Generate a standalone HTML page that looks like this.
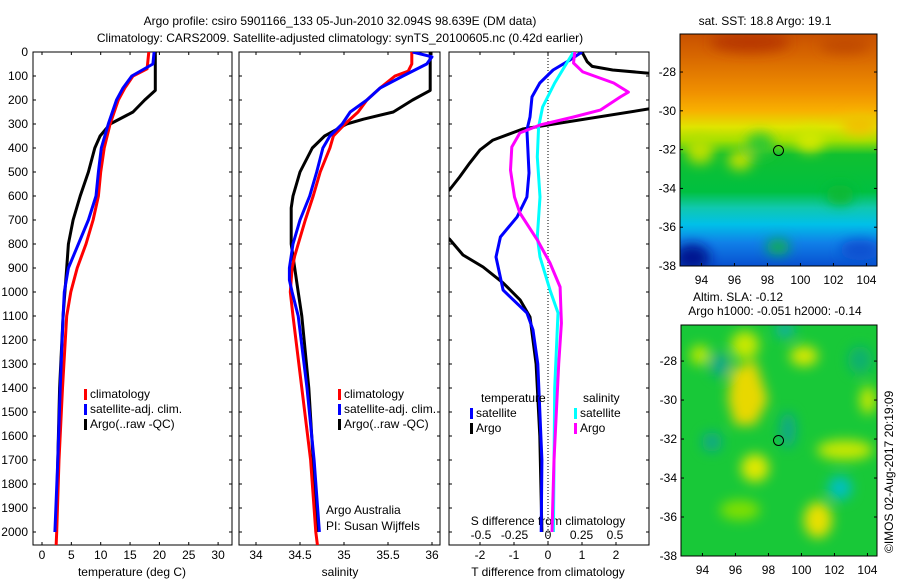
<!DOCTYPE html>
<html><head><meta charset="utf-8">
<style>
body{margin:0;background:#fff;width:900px;height:580px;overflow:hidden;font-family:"Liberation Sans",sans-serif;}
svg text{font-family:"Liberation Sans",sans-serif;font-size:12px;fill:#000;}
</style></head>
<body>
<svg id="c" width="900" height="580">
<defs>
<linearGradient id="sst" x1="0" y1="0" x2="0" y2="1">
<stop offset="0" stop-color="#c85000"/><stop offset="0.1" stop-color="#d86800"/>
<stop offset="0.25" stop-color="#f09000"/><stop offset="0.33" stop-color="#f8b000"/>
<stop offset="0.4" stop-color="#e0e400"/><stop offset="0.46" stop-color="#a0e000"/>
<stop offset="0.52" stop-color="#10c030"/><stop offset="0.68" stop-color="#00c040"/>
<stop offset="0.75" stop-color="#10c8b0"/><stop offset="0.82" stop-color="#00c0e8"/>
<stop offset="0.9" stop-color="#1080e8"/><stop offset="1" stop-color="#0850d0"/>
</linearGradient>
<filter id="bl" x="-50%" y="-50%" width="200%" height="200%"><feGaussianBlur stdDeviation="6"/></filter>
<clipPath id="cm1"><rect x="680" y="34" width="197" height="232"/></clipPath>
<clipPath id="cm2"><rect x="681" y="325" width="196" height="231"/></clipPath>
<clipPath id="cp1"><rect x="33" y="52" width="199" height="493"/></clipPath>
<clipPath id="cp2"><rect x="239" y="52" width="201" height="493"/></clipPath>
<clipPath id="cp3"><rect x="449" y="52" width="200" height="493"/></clipPath>
</defs>
<text x="340" y="25" text-anchor="middle" font-size="13">Argo profile: csiro 5901166_133 05-Jun-2010 32.094S 98.639E (DM data)</text>
<text x="340" y="42" text-anchor="middle" font-size="13">Climatology: CARS2009. Satellite-adjusted climatology: synTS_20100605.nc (0.42d earlier)</text>

<g clip-path="url(#cm1)">
<rect x="680" y="34" width="197" height="232" fill="url(#sst)"/>
<g filter="url(#bl)">
<ellipse cx="700" cy="150" rx="14" ry="14" fill="#b8e000"/>
<ellipse cx="760" cy="145" rx="14" ry="12" fill="#30c830"/>
<ellipse cx="810" cy="140" rx="14" ry="12" fill="#d0e800"/>
<ellipse cx="860" cy="125" rx="18" ry="10" fill="#f0c000"/>
<ellipse cx="740" cy="160" rx="12" ry="10" fill="#c0e000"/>
<ellipse cx="840" cy="195" rx="14" ry="10" fill="#10b830"/>
<ellipse cx="778" cy="247" rx="12" ry="8" fill="#10b050"/>
<ellipse cx="692" cy="258" rx="18" ry="14" fill="#001890"/>
<ellipse cx="860" cy="250" rx="20" ry="10" fill="#1050d0"/>
<ellipse cx="750" cy="42" rx="40" ry="10" fill="#b83800"/>
<ellipse cx="845" cy="45" rx="25" ry="8" fill="#c04800"/>
</g>
</g>
<rect x="680" y="34" width="197" height="232" fill="none" stroke="#000"/>
<circle cx="778.5" cy="150.5" r="5" fill="none" stroke="#000"/>
<text x="765" y="25" text-anchor="middle">sat. SST: 18.8 Argo: 19.1</text>

<g clip-path="url(#cm2)">
<rect x="681" y="325" width="196" height="231" fill="#18c838"/>
<g filter="url(#bl)">
<path d="M732,370 L755,360 L768,400 L755,425 L735,425 L728,400Z" fill="#e8d800"/>
<ellipse cx="745" cy="345" rx="14" ry="14" fill="#c8e800"/>
<ellipse cx="700" cy="355" rx="10" ry="10" fill="#b8e800"/>
<ellipse cx="720" cy="365" rx="10" ry="12" fill="#10a888"/>
<ellipse cx="785" cy="330" rx="10" ry="8" fill="#10b0a0"/>
<ellipse cx="804" cy="356" rx="14" ry="10" fill="#d8e800"/>
<ellipse cx="788" cy="430" rx="8" ry="18" fill="#10a888"/>
<ellipse cx="712" cy="442" rx="10" ry="10" fill="#10a888"/>
<ellipse cx="755" cy="468" rx="14" ry="14" fill="#e0e800"/>
<ellipse cx="845" cy="450" rx="28" ry="10" fill="#c8e800"/>
<ellipse cx="840" cy="488" rx="12" ry="12" fill="#00c0c0"/>
<ellipse cx="818" cy="520" rx="14" ry="18" fill="#e8e000"/>
<ellipse cx="740" cy="510" rx="20" ry="10" fill="#80e000"/>
<ellipse cx="868" cy="400" rx="8" ry="14" fill="#c8e800"/>
<ellipse cx="860" cy="360" rx="12" ry="14" fill="#10b070"/>
</g>
</g>
<rect x="681" y="325" width="196" height="231" fill="none" stroke="#000"/>
<circle cx="778.5" cy="440.5" r="5" fill="none" stroke="#000"/>
<text x="738" y="301" text-anchor="middle">Altim. SLA: -0.12</text>
<text x="775" y="315" text-anchor="middle">Argo h1000: -0.051 h2000: -0.14</text>
<text transform="translate(893,553) rotate(-90)">©IMOS 02-Aug-2017 20:19:09</text>
<g id="ax"></g>
</svg>
<script>
const depthTicks=[0,100,200,300,400,500,600,700,800,900,1000,1100,1200,1300,1400,1500,1600,1700,1800,1900,2000];
const tempTicks=[0,5,10,15,20,25,30];
const salTicks=[34,34.5,35,35.5,36];
const tdTicks=[-2,-1,0,1,2];
const sdTicks=[-0.5,-0.25,0,0.25,0.5];
const sdTickLabels=["-0.5","-0.25","0","0.25","0.5"];
const latTicks=[-28,-30,-32,-34,-36,-38];
const lonTicks=[94,96,98,100,102,104];
const tClimDepth=[0,70,100,150,200,300,400,500,600,700,800,900,1000,1100,1400,1700,2000,2060];
const tClimVal=[18.2,17.9,15.5,14.1,13,11.6,10.6,10,9.6,8.7,7.5,6,4.9,4.2,3.5,2.9,2.5,2.4];
const tSatDepth=[0,50,100,150,200,300,400,500,600,700,800,900,1000,1100,1400,1700,2000];
const tSatVal=[19.1,18.9,15.3,13.8,12.7,11.3,10.1,9.6,9.2,7.9,6.2,4.5,3.8,3.6,3.1,2.7,2.2];
const tArgoDepth=[0,160,200,250,300,350,400,500,600,700,800,900,1000,1100,1400,1700,2000];
const tArgoVal=[19.3,19.3,17.5,15.5,11.6,9.9,9.0,7.9,6.5,5.3,4.5,4.2,3.9,3.6,3.0,2.7,2.4];
const sClimDepth=[0,50,80,100,150,200,250,300,350,400,500,600,700,800,850,900,1000,1100,1400,1700,2000,2060];
const sClimVal=[35.77,35.77,35.73,35.58,35.41,35.26,35.16,35.01,34.88,34.84,34.73,34.65,34.56,34.48,34.44,34.41,34.39,34.42,34.52,34.62,34.68,34.7];
const sSatDepth=[0,20,50,100,150,200,250,300,350,400,500,600,700,800,900,950,1000,1100,1400,1700,2000];
const sSatVal=[35.78,36.0,35.94,35.67,35.41,35.26,35.07,34.98,34.84,34.76,34.69,34.61,34.5,34.42,34.38,34.38,34.41,34.48,34.58,34.66,34.72];
const sArgoDepth=[0,160,200,250,280,300,350,400,500,600,650,800,900,1000,1100,1400,1700,2000];
const sArgoVal=[35.98,35.98,35.78,35.56,35.22,35.03,34.78,34.64,34.5,34.42,34.4,34.4,34.44,34.48,34.52,34.6,34.65,34.69];
const dTArgoDepth=[0,40,60,75,90,150,237,321,367,408,462,521,575,650,779,846,896,962,1033,1104,1300,1600,2000];
const dTArgoVal=[1.0,1.15,1.3,1.9,3.1,5,2.97,-0.74,-1.62,-2.0,-2.3,-2.6,-2.9,-4,-2.9,-2.5,-1.91,-1.32,-0.82,-0.53,-0.35,-0.24,-0.18];
const dTSatDepth=[0,33,75,129,187,271,325,408,504,604,687,771,854,992,1087,1158,1300,1700,2000];
const dTSatVal=[1.0,0.65,0.15,-0.24,-0.47,-0.53,-0.62,-0.59,-0.56,-0.62,-0.91,-1.4,-1.53,-1.32,-0.62,-0.44,-0.3,-0.18,-0.2];
const dSSatDepth=[0,46,129,229,312,437,604,771,854,992,1087,1400,2000];
const dSSatVal=[0.19,0.14,0.05,-0.04,-0.07,-0.08,-0.06,-0.08,-0.06,0.015,0.075,0.05,0.04];
const dSArgoDepth=[0,46,83,129,167,187,242,271,304,337,396,492,604,671,783,879,979,1129,1300,1700,2000];
const dSArgoVal=[0.2,0.19,0.26,0.49,0.6,0.54,0.39,0.19,-0.06,-0.21,-0.27,-0.28,-0.25,-0.21,-0.08,0.015,0.09,0.1,0.08,0.045,0.03];

const NS='http://www.w3.org/2000/svg';
const g=document.getElementById('ax');
function el(tag,at,txt){const e=document.createElementNS(NS,tag);for(const k in at)e.setAttribute(k,at[k]);if(txt!==undefined)e.textContent=txt;g.appendChild(e);return e;}
const Y0=52,Y1=545;
function yD(d){return Y0+d*0.24;}
const xT=v=>42+v*5.87, xS=v=>256+(v-34)*88, xDT=v=>548+v*34, xDS=v=>548+v*134;
function line(dep,val,fx,color,clip,name,w){
  let d='';dep.forEach((z,i)=>{d+=(i?'L':'M')+fx(val[i]).toFixed(1)+','+yD(z).toFixed(1);});
  const p=el('path',{d:d,fill:'none',stroke:color,'stroke-width':w||3,'clip-path':'url(#'+clip+')','stroke-linejoin':'round'});
  
  
}
function panel(x0,x1,name){
  const r=el('rect',{x:x0,y:Y0,width:x1-x0,height:Y1-Y0,fill:'none',stroke:'#000'});
  
  
  depthTicks.forEach(d=>{el('line',{x1:x0,x2:x0+3,y1:yD(d),y2:yD(d),stroke:'#000'});el('line',{x1:x1-3,x2:x1,y1:yD(d),y2:yD(d),stroke:'#000'});});
}
panel(33,232,'temperature-panel');panel(239,440,'salinity-panel');panel(449,649,'difference-panel');
depthTicks.forEach(d=>{const t=el('text',{x:28,y:yD(d)+4,'text-anchor':'end'},String(d));
  
  });
function xticks(arr,fx,labels,y){arr.forEach((v,i)=>{const x=fx(v);el('line',{x1:x,x2:x,y1:Y1-3,y2:Y1,stroke:'#000'});el('line',{x1:x,x2:x,y1:Y0,y2:Y0+3,stroke:'#000'});
  const t=el('text',{x:x,y:y,'text-anchor':'middle'},labels?labels[i]:String(v));
  
  });}
xticks(tempTicks,xT,null,559);xticks(salTicks,xS,null,559);xticks(tdTicks,xDT,null,559);
sdTicks.forEach((v,i)=>{const t=el('text',{x:xDS(v),y:539,'text-anchor':'middle'},sdTickLabels[i]);
  
  });
el('line',{x1:548,x2:548,y1:Y0,y2:Y1,stroke:'#000','stroke-dasharray':'1,2'});
[['temperature (deg C)',132],['salinity',340],['T difference from climatology',548]].forEach(a=>{const t=el('text',{x:a[1],y:576,'text-anchor':'middle'},a[0]);
  
  });
const st=el('text',{x:548,y:525,'text-anchor':'middle'},'S difference from climatology');



line(tArgoDepth,tArgoVal,xT,'#000','cp1','temp-argo-line');
line(tClimDepth,tClimVal,xT,'#f00','cp1','temp-clim-line');
line(tSatDepth,tSatVal,xT,'#00f','cp1','temp-sat-line');
line(sArgoDepth,sArgoVal,xS,'#000','cp2','sal-argo-line');
line(sClimDepth,sClimVal,xS,'#f00','cp2','sal-clim-line');
line(sSatDepth,sSatVal,xS,'#00f','cp2','sal-sat-line');
line(dTArgoDepth,dTArgoVal,xDT,'#000','cp3','tdiff-argo-line');
line(dTSatDepth,dTSatVal,xDT,'#00f','cp3','tdiff-sat-line');
line(dSSatDepth,dSSatVal,xDS,'#0ff','cp3','sdiff-sat-line');
line(dSArgoDepth,dSArgoVal,xDS,'#f0f','cp3','sdiff-argo-line');

function legend(x,y,color,label){const r=el('rect',{x:x,y:y-9,width:3,height:11,fill:color});
  
  
  const t=el('text',{x:x+6,y:y},label);
  
  }
[[398,'#f00','climatology'],[413,'#00f','satellite-adj. clim.'],[428,'#000','Argo(..raw -QC)']].forEach(a=>{legend(84,a[0],a[1],a[2]);legend(338,a[0],a[1],a[2]);});
const lt=el('text',{x:481,y:402},'temperature');
const ls=el('text',{x:583,y:402},'salinity');
legend(470,417,'#00f','satellite');legend(470,432,'#000','Argo');
legend(574,417,'#0ff','satellite');legend(574,432,'#f0f','Argo');
[['Argo Australia',514],['PI: Susan Wijffels',530]].forEach(a=>{const t=el('text',{x:326,y:a[1]},a[0]);
  
  });

function mapAxes(x0,x1,top,bot,latTopVal,name){
  const ppd=(bot-top)/(latTopVal+38);
  latTicks.forEach(l=>{const y=bot-(l+38)*ppd;if(y<top-1)return;
    el('line',{x1:x0,x2:x0+3,y1:y,y2:y,stroke:'#000'});el('line',{x1:x1-3,x2:x1,y1:y,y2:y,stroke:'#000'});
    const t=el('text',{x:x0-4,y:y+4,'text-anchor':'end'},String(l));
    
    });
  lonTicks.forEach(l=>{const x=x0+(l-92.7)*16.5;
    el('line',{x1:x,x2:x,y1:bot-3,y2:bot,stroke:'#000'});
    const t=el('text',{x:x,y:bot+18,'text-anchor':'middle'},String(l));
    
    });
}
mapAxes(680,877,34,266,-26.04,'sst-map');
mapAxes(681,877,325,556,-26.15,'sla-map');
</script>
</body></html>
